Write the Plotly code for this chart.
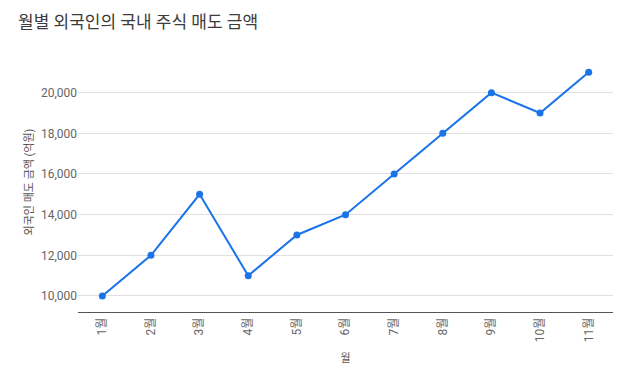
import plotly.graph_objects as go

months = ["1월", "2월", "3월", "4월", "5월", "6월", "7월", "8월", "9월", "10월", "11월"]
sales = [10000, 12000, 15000, 11000, 13000, 14000, 16000, 18000, 20000, 19000, 21000]
y_ticks = [10000, 12000, 14000, 16000, 18000, 20000]

FONT = "Roboto, Noto Sans CJK KR, sans-serif"

fig = go.Figure(go.Scatter(
    x=months, y=sales, mode="lines+markers",
    line=dict(color="#1a73e8", width=2),
    marker=dict(color="#1a73e8", size=7),
    hoverinfo="x+y",
))

fig.update_layout(
    width=629, height=380,
    margin=dict(l=70, r=24, t=44, b=76),
    paper_bgcolor="white", plot_bgcolor="white",
    font=dict(family=FONT, color="#666666", size=12),
    title=dict(text="월별 외국인의 국내 주식 매도 금액", x=0.016, xanchor="left",
               y=0.963, yanchor="middle",
               font=dict(family=FONT, size=17, color="#3c3c3c")),
    showlegend=False,
    xaxis=dict(
        type="category", range=[-0.5, 10.5], tickangle=-90,
        showgrid=False, showline=True, linecolor="#555555", linewidth=1,
        ticks="", tickfont=dict(size=12, color="#666666"),
        title=dict(text="월", font=dict(size=11, color="#555555"), standoff=12),
    ),
    yaxis=dict(
        range=[9212, 22000], tickvals=y_ticks, tickformat=",d",
        showgrid=True, gridcolor="#e0e0e0", gridwidth=1, zeroline=False,
        showline=False, ticks="", tickfont=dict(size=12, color="#666666"),
        title=dict(text="외국인 매도 금액 (억원)", font=dict(size=11, color="#555555"), standoff=5),
    ),
)

fig.write_html("out.html")
